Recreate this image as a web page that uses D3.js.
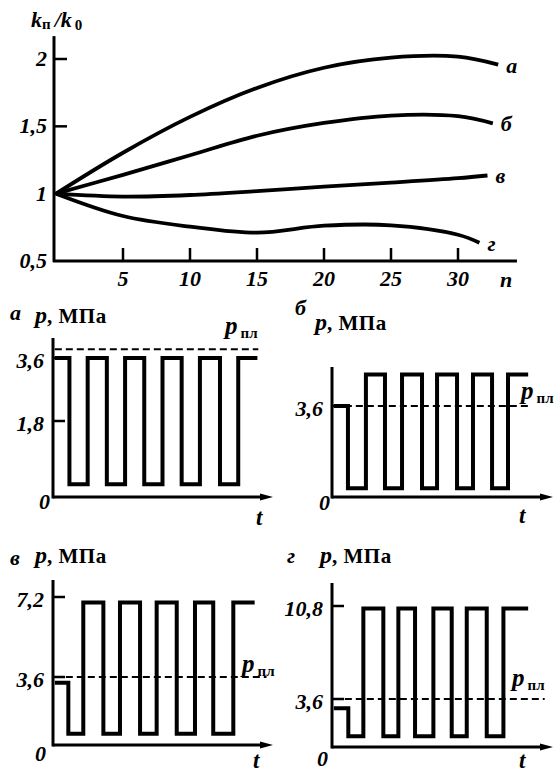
<!DOCTYPE html>
<html>
<head>
<meta charset="utf-8">
<script src="https://cdn.jsdelivr.net/npm/d3@7"></script>
<style>
body { margin: 0; background: #fff; }
text { font-family: "Liberation Serif", "Times New Roman", serif; font-weight: bold; fill: #000; }
.it { font-style: italic; }
</style>
</head>
<body>
<div id="chart"></div>
<script>
// top chart: k_п/k_0 against number of cycles n
var nPts = [0, 5, 10, 15, 20, 25, 30];
var kA = [1, 1.304, 1.57, 1.785, 1.935, 2.01, 2.017];
var kB = [1, 1.14, 1.285, 1.43, 1.525, 1.58, 1.575];
var kV = [1, 0.978, 0.99, 1.019, 1.052, 1.082, 1.115];
var kG = [1, 0.834, 0.755, 0.71, 0.762, 0.765, 0.695];
var endN = [33, 32.6, 32.2, 31.6];
var endK = [1.958, 1.522, 1.135, 0.636];
var curveNames = ["а", "б", "в", "г"];
var kTicks = [0.5, 1, 1.5, 2];
var nTicks = [5, 10, 15, 20, 25, 30];

// lower panels: pressure pulses p(t)
var panelNames = ["а", "б", "в", "г"];
var switchA = [0.9, 1.9, 2.95, 3.95, 5.0, 6.0, 7.05, 8.05, 9.15, 10.15];
var switchB = [0.87, 1.85, 2.89, 3.82, 4.91, 5.73, 6.82, 7.69, 8.73, 9.6];
var switchV = [0.84, 1.66, 2.76, 3.67, 4.77, 5.68, 6.78, 7.78, 8.78, 9.88];
var switchG = [0.89, 1.71, 2.8, 3.62, 4.53, 5.53, 6.53, 7.35, 8.44, 9.35];
var startP = [3.6, 3.6, 3.3, 2.9];
var highP = [3.6, 4.85, 6.95, 10.6];
var lowP = [0.3, 0.35, 0.6, 0.8];
var endT = [11.2, 10.7, 11.05, 10.7];
var reservoirP = [3.85, 3.6, 3.6, 3.6];
var dashEndT = [11.25, 10.7, 11.7, 11.6];
var pTicksA = [1.8, 3.6];
var pTicksB = [3.6];
var pTicksV = [3.6, 7.2];
var pTicksG = [3.6, 10.8];

var comma = function(d) { return String(d).replace(".", ","); };

var svg = d3.select("#chart").append("svg")
    .attr("width", 560)
    .attr("height", 772);

// ---------- top chart ----------
var x = d3.scaleLinear().domain([0, 30]).range([56, 458]);
var y = d3.scaleLinear().domain([0.5, 2]).range([261, 59]);

var topG = svg.append("g");

topG.append("line")
    .attr("x1", 54).attr("x2", 54)
    .attr("y1", y(2.17)).attr("y2", y(0.5) + 1)
    .attr("stroke", "#000").attr("stroke-width", 3);
topG.append("line")
    .attr("x1", 53).attr("x2", x(34.4))
    .attr("y1", y(0.5)).attr("y2", y(0.5))
    .attr("stroke", "#000").attr("stroke-width", 3);

topG.selectAll(".ytick").data(kTicks.slice(1)).enter().append("line")
    .attr("x1", 54).attr("x2", 67)
    .attr("y1", function(d) { return y(d); })
    .attr("y2", function(d) { return y(d); })
    .attr("stroke", "#000").attr("stroke-width", 2.5);

topG.selectAll(".ylab").data(kTicks).enter().append("text")
    .attr("class", "it")
    .attr("x", 47)
    .attr("y", function(d) { return y(d) + 7; })
    .attr("text-anchor", "end")
    .style("font-size", "22px")
    .text(comma);

topG.selectAll(".xtick").data(nTicks).enter().append("line")
    .attr("x1", function(d) { return x(d); })
    .attr("x2", function(d) { return x(d); })
    .attr("y1", y(0.5)).attr("y2", y(0.5) - 13)
    .attr("stroke", "#000").attr("stroke-width", 2.5);

topG.selectAll(".xlab").data(nTicks).enter().append("text")
    .attr("class", "it")
    .attr("x", function(d) { return x(d); })
    .attr("y", 286)
    .attr("text-anchor", "middle")
    .style("font-size", "22px")
    .text(function(d) { return d; });

topG.append("text").attr("class", "it")
    .attr("x", 500).attr("y", 287)
    .style("font-size", "22px")
    .text("n");

var title = topG.append("text").attr("x", 31).attr("y", 27);
title.append("tspan").attr("class", "it").style("font-size", "22px").text("k");
title.append("tspan").attr("dy", 2).style("font-size", "15px").text("п");
title.append("tspan").attr("class", "it").attr("dy", -2).attr("dx", 4).style("font-size", "22px").text("/k");
title.append("tspan").attr("dy", 3).attr("dx", 3).style("font-size", "15px").text("0");

var line = d3.line()
    .x(function(d) { return x(d[0]); })
    .y(function(d) { return y(d[1]); })
    .curve(d3.curveCatmullRom.alpha(0.5));

[kA, kB, kV, kG].forEach(function(ks, i) {
    var pts = nPts.map(function(n, j) { return [n, ks[j]]; });
    pts.push([endN[i], endK[i]]);
    topG.append("path")
        .attr("d", line(pts))
        .attr("fill", "none")
        .attr("stroke", "#000")
        .attr("stroke-width", 3.8)
        .attr("stroke-linecap", "butt");
    topG.append("text")
        .attr("class", "it")
        .attr("x", x(endN[i]) + 8)
        .attr("y", y(endK[i]) + 8)
        .style("font-size", "22px")
        .text(curveNames[i]);
});

// ---------- pressure panels ----------
var panels = [
    { x0: 53, x1: 272, yBase: 497, yTop: 338, pDomain: [0, 1.8, 3.6], pRange: [497, 421, 358], ticks: pTicksA,
      name: [10, 320], unit: [35, 323], zero: [50, 509], t: [256, 525], ppl: [225, 334] },
    { x0: 332, x1: 552, yBase: 497, yTop: 367, pDomain: [0, 3.6], pRange: [497, 406], ticks: pTicksB,
      name: [295, 315], unit: [315, 330], zero: [330, 510], t: [519, 523], ppl: [521, 399] },
    { x0: 53, x1: 272, yBase: 745, yTop: 580, pDomain: [0, 3.6, 7.2], pRange: [745, 677, 597], ticks: pTicksV,
      name: [10, 565], unit: [35, 563], zero: [46, 761], t: [253, 768], ppl: [242, 672] },
    { x0: 332, x1: 552, yBase: 747, yTop: 583, pDomain: [0, 3.6, 10.8], pRange: [747, 699, 606], ticks: pTicksG,
      name: [287, 563], unit: [320, 563], zero: [328, 766], t: [519, 768], ppl: [512, 686] }
];
var switches = [switchA, switchB, switchV, switchG];

panels.forEach(function(p, i) {
    var g = svg.append("g");
    var tx = d3.scaleLinear().domain([0, 12]).range([p.x0, p.x1]);
    var py = d3.scaleLinear().domain(p.pDomain).range(p.pRange);

    // axes
    g.append("line")
        .attr("x1", p.x0).attr("x2", p.x0)
        .attr("y1", p.yTop).attr("y2", p.yBase + 1.5)
        .attr("stroke", "#000").attr("stroke-width", 3);
    g.append("line")
        .attr("x1", p.x0).attr("x2", p.x1 - 8)
        .attr("y1", p.yBase).attr("y2", p.yBase)
        .attr("stroke", "#000").attr("stroke-width", 3);
    g.append("path")
        .attr("d", "M" + (p.x1 + 1) + "," + p.yBase + "L" + (p.x1 - 12) + "," + (p.yBase - 3.5) +
              "L" + (p.x1 - 12) + "," + (p.yBase + 3.5) + "Z")
        .attr("fill", "#000");

    g.selectAll(".tk").data(p.ticks).enter().append("line")
        .attr("x1", p.x0).attr("x2", p.x0 + 12)
        .attr("y1", function(d) { return py(d); })
        .attr("y2", function(d) { return py(d); })
        .attr("stroke", "#000").attr("stroke-width", 2.5);
    g.selectAll(".tl").data(p.ticks).enter().append("text")
        .attr("class", "it")
        .attr("x", p.x0 - 9)
        .attr("y", function(d) { return py(d) + 10; })
        .attr("text-anchor", "end")
        .style("font-size", "22px")
        .text(comma);

    g.append("text").attr("class", "it")
        .attr("x", p.zero[0]).attr("y", p.zero[1])
        .attr("text-anchor", "end")
        .style("font-size", "22px").text("0");
    g.append("text").attr("class", "it")
        .attr("x", p.t[0]).attr("y", p.t[1])
        .style("font-size", "23px").text("t");
    g.append("text").attr("class", "it")
        .attr("x", p.name[0]).attr("y", p.name[1])
        .style("font-size", "22px").text(panelNames[i]);

    var unit = g.append("text").attr("x", p.unit[0]).attr("y", p.unit[1]);
    unit.append("tspan").attr("class", "it").style("font-size", "24px").text("p");
    unit.append("tspan").style("font-size", "21px").style("letter-spacing", "0.5px").text(", МПа");

    // reservoir pressure, dashed
    g.append("line")
        .attr("x1", tx(0.1)).attr("x2", tx(dashEndT[i]))
        .attr("y1", py(reservoirP[i])).attr("y2", py(reservoirP[i]))
        .attr("stroke", "#000").attr("stroke-width", 2)
        .attr("stroke-dasharray", "7,4");

    var ppl = g.append("text").attr("x", p.ppl[0]).attr("y", p.ppl[1]);
    ppl.append("tspan").attr("class", "it").style("font-size", "25px").text("p");
    ppl.append("tspan").attr("dx", 3).attr("dy", 4).style("font-size", "15px").text("пл");

    // square pulses
    var pts = [[0.1, startP[i]]];
    switches[i].forEach(function(t, j) {
        pts.push([t, j % 2 === 0 ? lowP[i] : highP[i]]);
    });
    pts.push([endT[i], highP[i]]);
    var step = d3.line()
        .x(function(d) { return tx(d[0]); })
        .y(function(d) { return py(d[1]); })
        .curve(d3.curveStepAfter);
    g.append("path")
        .attr("d", step(pts))
        .attr("fill", "none")
        .attr("stroke", "#000")
        .attr("stroke-width", 4)
        .attr("stroke-linejoin", "miter");
});
</script>
</body>
</html>
